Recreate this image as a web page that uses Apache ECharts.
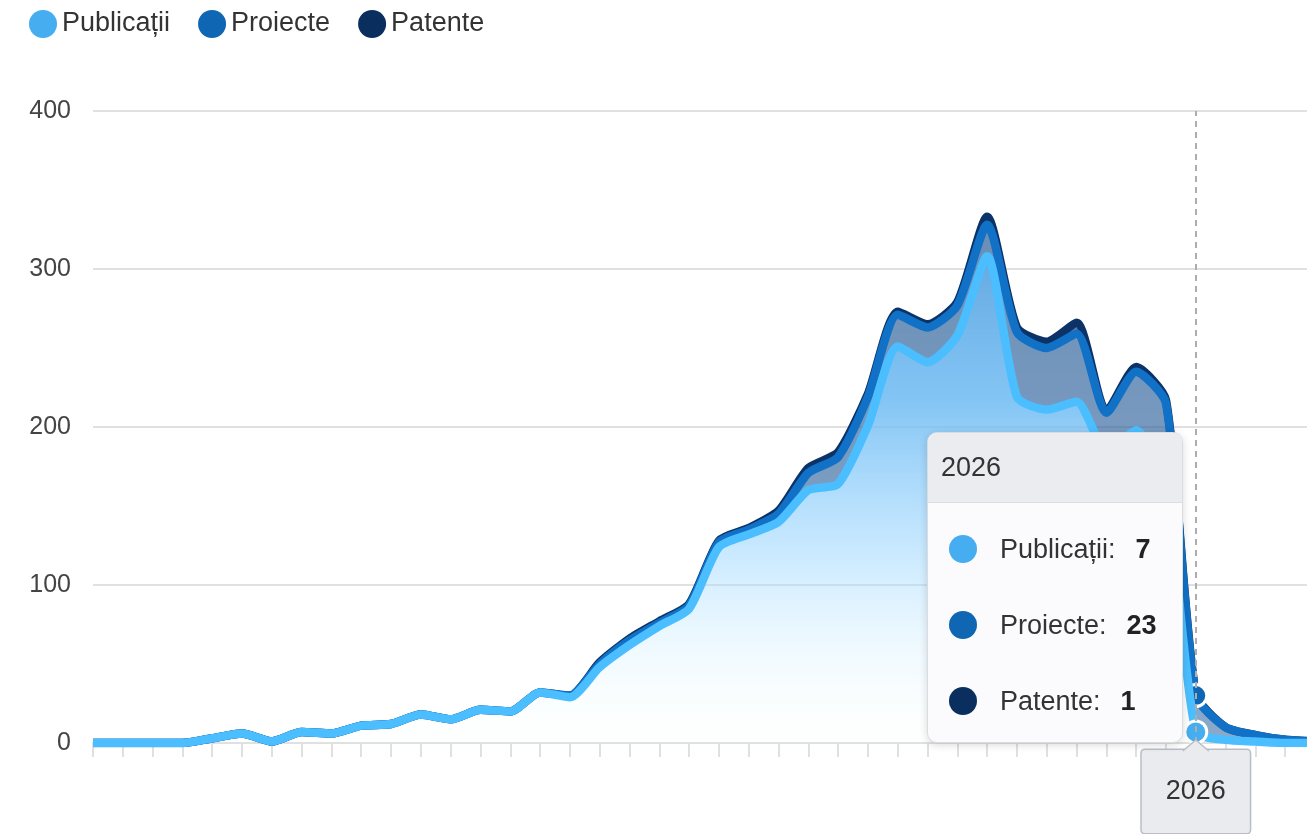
<!DOCTYPE html>
<html>
<head>
<meta charset="utf-8">
<script src="https://cdn.jsdelivr.net/npm/echarts@6/dist/echarts.min.js"></script>
<style>
html,body{margin:0;padding:0;overflow:hidden;background:#fff;}
#c{width:1330px;height:834px;}
</style>
</head>
<body>
<div id="c"></div>
<script>
const years = ['1989','1990','1991','1992','1993','1994','1995','1996','1997','1998','1999','2000','2001','2002','2003','2004','2005','2006','2007','2008','2009','2010','2011','2012','2013','2014','2015','2016','2017','2018','2019','2020','2021','2022','2023','2024','2025','2026','2027','2028','2029','2030'];
const publicatii = [0,0,0,0,3,6,1,7,6,11,12,18,15,21,20,32,29,48,62,74,85,124,132,140,160,164,201,251,241,258,308,219,211,216,185,198,160,7,2,1,0,0];
const proiecte = [0,0,0,0,0,0,0,0,0,0,0,0,0,0,0,0,1,2,3,2,2,3,3,5,11,17,18,20,22,19,20,41,39,43,24,37,55,23,8,4,2,1];
const patente = [0,0,0,0,0,0,0,0,0,0,0,0,0,0,0,0,0,1,1,1,1,1,1,2,3,3,2,2,2,2,5,3,4,7,1,3,2,1,0,0,0,0];
const seriesNames = ['Publicații','Proiecte','Patente'];
const yTicks = {min:0, max:400, interval:100};
const highlightYear = '2026';

const FONT = 'Liberation Sans, Arial, sans-serif';
const colors = ['#45adf0','#0f67b4','#0a2f5e'];

const chart = echarts.init(document.getElementById('c'));

function mkSeries(name, data, idx, area, z){
  return {
    name: name, type:'line', stack:'total', data: data, smooth:0.22,
    showSymbol:false, symbol:'circle', symbolSize:22, z:z,
    lineStyle:{width:8.5, color:colors[idx]},
    itemStyle:{color:colors[idx], borderColor:'#fff', borderWidth:3},
    areaStyle: area,
    emphasis:{focus:'none', scale:false, lineStyle:{width:8.5}}
  };
}

const option = {
  animation:false,
  textStyle:{fontFamily:FONT},
  color: colors,
  legend:{
    data: seriesNames, top:5, left:24, icon:'circle', itemWidth:28, itemHeight:28, itemGap:28,
    itemStyle:{borderWidth:0},
    textStyle:{fontSize:27, color:'#333', fontFamily:FONT}
  },
  grid:{left:93, right:15, top:111, bottom:91, containLabel:false},
  tooltip:{
    trigger:'axis', triggerOn:'none', alwaysShowContent:true,
    padding:0, borderWidth:1, borderColor:'#d9dce1', borderRadius:10,
    backgroundColor:'#fbfbfd',
    extraCssText:'box-shadow:0 2px 8px rgba(0,0,0,0.15);overflow:hidden;width:254px;',
    position:function(){ return [927, 432]; },
    axisPointer:{
      type:'line',
      lineStyle:{color:'#adadad', width:2, type:[6,5]},
      label:{show:true, backgroundColor:'#e9ebef', borderColor:'#b9bdc5', borderWidth:1.5,
        padding:[28,24,28,24], fontSize:27, color:'#333', margin:7, borderRadius:3, fontFamily:FONT,
        shadowBlur:0}
    },
    formatter:function(params){
      let h = '<div style="font-family:'+FONT+';">';
      h += '<div style="background:#ebecf0;height:69px;line-height:69px;border-bottom:1px solid #dcdde1;padding-left:13px;font-size:27px;color:#333;">'+params[0].axisValue+'</div>';
      h += '<div style="padding:8px 0 3px 0;">';
      params.forEach(function(p){
        h += '<div style="height:76px;display:flex;align-items:center;">'+
          '<span style="display:inline-block;width:28px;height:28px;border-radius:50%;background:'+p.color+';margin-left:21px;margin-right:23px;"></span>'+
          '<span style="font-size:27px;color:#333;">'+p.seriesName+':</span>'+
          '<b style="font-size:27px;color:#222;margin-left:20px;">'+p.value+'</b></div>';
      });
      h += '</div></div>';
      return h;
    }
  },
  xAxis:{
    type:'category', data:years, boundaryGap:false,
    axisLine:{lineStyle:{color:'#e0e0e0', width:2}},
    axisTick:{show:true, interval:0, length:14, lineStyle:{color:'#e0e0e0', width:2}},
    axisLabel:{show:false}
  },
  yAxis:{
    type:'value', min:yTicks.min, max:yTicks.max, interval:yTicks.interval,
    axisLine:{show:false}, axisTick:{show:false},
    axisLabel:{fontSize:25, color:'#444', margin:22, fontFamily:FONT},
    splitLine:{lineStyle:{color:'#e0e0e0', width:2}}
  },
  series:[
    mkSeries(seriesNames[0], publicatii, 0, {
      opacity:1,
      color:new echarts.graphic.LinearGradient(0,0,0,1,[
        {offset:0, color:'rgba(85,150,205,0.95)'},
        {offset:0.3, color:'rgba(100,170,220,0.85)'},
        {offset:0.6, color:'rgba(140,195,235,0.55)'},
        {offset:1, color:'rgba(220,235,248,0.05)'}
      ])}, 5),
    mkSeries(seriesNames[1], proiecte, 1, {
      opacity:1,
      color:new echarts.graphic.LinearGradient(0,0,0,1,[
        {offset:0, color:'rgba(45,90,140,0.72)'},
        {offset:1, color:'rgba(60,105,155,0.62)'}
      ])}, 4),
    mkSeries(seriesNames[2], patente, 2, {opacity:1, color:'rgba(10,47,94,0.65)'}, 3)
  ]
};
chart.setOption(option);

const idx = years.indexOf(highlightYear);
const px = chart.convertToPixel({xAxisIndex:0}, highlightYear);
const baseY = chart.convertToPixel({yAxisIndex:0}, 0);
chart.setOption({
  graphic:[
    {type:'polygon', z:200, shape:{points:[[px-13,baseY+8],[px,baseY-3],[px+13,baseY+8]]}, style:{fill:'#e9ebef'}},
    {type:'polyline', z:201, shape:{points:[[px-13,baseY+8],[px,baseY-3],[px+13,baseY+8]]}, style:{stroke:'#b9bdc5', lineWidth:1.5, fill:null}}
  ]
});
chart.dispatchAction({type:'showTip', seriesIndex:0, dataIndex:idx});
</script>
</body>
</html>
